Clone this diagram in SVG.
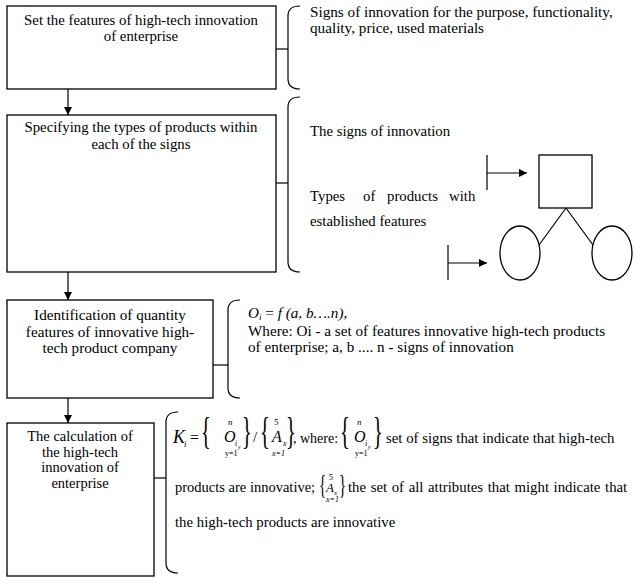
<svg xmlns="http://www.w3.org/2000/svg" width="634" height="577" viewBox="0 0 634 577" font-family="'Liberation Serif', serif">
<defs>
<marker id="ah" viewBox="0 0 10 10" refX="10" refY="5" markerWidth="8" markerHeight="8" markerUnits="userSpaceOnUse" orient="auto">
<path d="M0,0 L10,5 L0,10 z" fill="#000"/>
</marker>
</defs>
<style>
.box{fill:#fff;stroke:#000;stroke-width:1.3}
.ln{fill:none;stroke:#000;stroke-width:1.2}
.br{fill:none;stroke:#000;stroke-width:1.2}
text{font-size:14.8px;fill:#000}
.c{text-anchor:middle}
.b3{font-size:15.2px}
.b4{font-size:14.5px}
.n{font-size:15.2px}
.i{font-style:italic}
.s{font-size:9px}
.m{font-size:8px}
.bg{font-size:37px}
.bs{font-size:27px}
</style>
<rect width="634" height="577" fill="#fff"/>

<g id="connectors">
<line class="ln" x1="68" y1="89" x2="68" y2="115" marker-end="url(#ah)"/>
<line class="ln" x1="68" y1="272" x2="68" y2="300" marker-end="url(#ah)"/>
<line class="ln" x1="68" y1="398" x2="68" y2="423" marker-end="url(#ah)"/>
<line class="ln" x1="276" y1="49" x2="288" y2="49"/>
<line class="ln" x1="276" y1="183" x2="288" y2="183"/>
<line class="ln" x1="213" y1="365" x2="228" y2="365"/>
<line class="ln" x1="154" y1="478" x2="166" y2="478"/>
</g>

<g id="step1">
<rect class="box" x="7" y="6" width="269" height="83"/>
<text class="c" x="141" y="25">Set the features of high-tech innovation</text>
<text class="c" x="141" y="41">of enterprise</text>
</g>

<g id="step2">
<rect class="box" x="7" y="115" width="269" height="157"/>
<text class="c" x="141" y="132">Specifying the types of products within</text>
<text class="c" x="141" y="149">each of the signs</text>
</g>

<g id="step3">
<rect class="box" x="7" y="300" width="206" height="98"/>
<text class="c b3" x="110" y="320">Identification of quantity</text>
<text class="c b3" x="110" y="337">features of innovative high-</text>
<text class="c b3" x="110" y="353">tech product company</text>
</g>

<g id="step4">
<rect class="box" x="7" y="423" width="147" height="153"/>
<text class="c b4" x="80" y="441">The calculation of</text>
<text class="c b4" x="80" y="457">the high-tech</text>
<text class="c b4" x="80" y="472">innovation of</text>
<text class="c b4" x="80" y="488">enterprise</text>
</g>

<g id="note1">
<path class="br" d="M300,6 Q288,6 288,16 L288,79 Q288,89 300,89"/>
<text class="n" x="310" y="17">Signs of innovation for the purpose, functionality,</text>
<text class="n" x="310" y="33">quality, price, used materials</text>
</g>

<g id="note2">
<path class="br" d="M300,97 Q288,97 288,107 L288,262 Q288,272 300,272"/>
<text x="310" y="136">The signs of innovation</text>
<text x="310" y="201">Types</text>
<text x="363" y="201">of</text>
<text x="387" y="201">products</text>
<text x="449" y="201">with</text>
<text x="310" y="226">established features</text>
<line class="ln" x1="487" y1="155" x2="487" y2="190"/>
<line class="ln" x1="487" y1="173" x2="527" y2="173" marker-end="url(#ah)"/>
<rect class="box" x="539" y="155" width="53" height="53"/>
<line class="ln" x1="566" y1="208" x2="539" y2="245"/>
<line class="ln" x1="566" y1="208" x2="593" y2="245"/>
<ellipse class="box" cx="520" cy="253" rx="20" ry="27"/>
<ellipse class="box" cx="612" cy="253" rx="20" ry="27"/>
<line class="ln" x1="448" y1="245" x2="448" y2="280"/>
<line class="ln" x1="448" y1="263" x2="487" y2="263" marker-end="url(#ah)"/>
</g>

<g id="note3">
<path class="br" d="M240,300 Q228,300 228,310 L228,388 Q228,398 240,398"/>
<text class="n" x="248" y="318"><tspan class="i">O</tspan><tspan class="i s" dy="2">i</tspan><tspan dy="-2"> = </tspan><tspan class="i">f (a, b….n)</tspan>,</text>
<text class="n" x="248" y="336">Where: Oi - a set of features innovative high-tech products</text>
<text class="n" x="248" y="352">of enterprise; a, b .... n - signs of innovation</text>
</g>

<g id="note4">
<path class="br" d="M178,412 Q166,412 166,422 L166,563 Q166,573 178,573"/>
<text class="i" x="173" y="443" style="font-size:18px">K</text>
<text class="i s" x="184" y="447">i</text>
<text x="190" y="443" style="font-size:16px">=</text>
<text class="bg" transform="translate(201,444) scale(0.55,1)">{</text>
<text class="i s" x="228" y="425">n</text>
<text class="i" x="224" y="442" style="font-size:16px">O</text>
<text class="i m" x="235" y="446">i</text>
<text class="i" x="238" y="449" style="font-size:6px">y</text>
<text class="m" x="225" y="456">y=1</text>
<text class="bg" transform="translate(242,444) scale(0.55,1)">}</text>
<text x="253" y="442">/</text>
<text class="bg" transform="translate(260,444) scale(0.55,1)">{</text>
<text class="s" x="274" y="425">5</text>
<text class="i" x="272" y="442" style="font-size:16px">A</text>
<text class="i m" x="283" y="446">x</text>
<text class="m i" x="272" y="456">x=1</text>
<text class="bg" transform="translate(286,444) scale(0.55,1)">}</text>
<text x="293" y="443" style="font-size:14px">, where:</text>
<text class="bg" transform="translate(340,444) scale(0.55,1)">{</text>
<text class="i s" x="357" y="425">n</text>
<text class="i" x="354" y="442" style="font-size:16px">O</text>
<text class="i m" x="365" y="446">i</text>
<text class="i" x="368" y="449" style="font-size:6px">y</text>
<text class="m" x="355" y="456">y=1</text>
<text class="bg" transform="translate(373,444) scale(0.55,1)">}</text>
<text x="386" y="443">set of signs that indicate that high-tech</text>
<text x="175" y="492" style="font-size:14.5px">products are innovative;</text>
<text class="bs" transform="translate(319,494) scale(0.55,1)">{</text>
<text class="m" x="329" y="480">5</text>
<text class="i" x="326" y="492" style="font-size:13px">A</text>
<text class="i" x="334" y="495" style="font-size:7px">x</text>
<text class="m i" x="326" y="502">x=1</text>
<text class="bs" transform="translate(339,494) scale(0.55,1)">}</text>
<text x="348" y="492" style="word-spacing:0.9px">the set of all attributes that might indicate that</text>
<text x="175" y="527">the high-tech products are innovative</text>
</g>
</svg>
